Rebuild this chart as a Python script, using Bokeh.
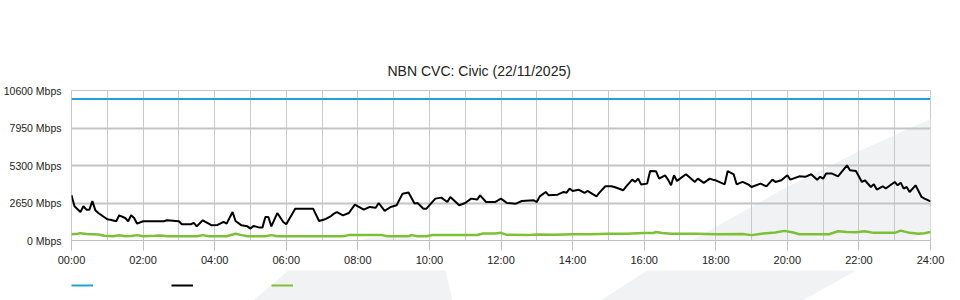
from bokeh.plotting import figure
from bokeh.layouts import column
from bokeh.models import (FixedTicker, Range1d, Legend, LegendItem, PolyAnnotation,
                          ColumnDataSource)
from bokeh.embed import file_html
from bokeh.resources import INLINE

title_text = "NBN CVC: Civic (22/11/2025)"
y_ticks = [0, 2650, 5300, 7950, 10600]
y_tick_labels = ["0 Mbps", "2650 Mbps", "5300 Mbps", "7950 Mbps", "10600 Mbps"]
x_ticks = list(range(0, 25, 2))
x_tick_labels = ["%02d:00" % h for h in x_ticks]

capacity_times = ["00:00", "24:00"]
capacity_mbps = [10000, 10000]

down_times = [
    "00:00", "00:05", "00:15", "00:20", "00:25", "00:30", "00:35", "00:40", "00:45", "01:00",
    "01:05", "01:15", "01:20", "01:30", "01:35", "01:40", "01:45", "01:50", "02:00", "02:35",
    "02:40", "03:00", "03:05", "03:20", "03:25", "03:30", "03:40", "03:50", "03:55", "04:05",
    "04:15", "04:20", "04:30", "04:35", "04:45", "04:55", "05:00", "05:05", "05:15", "05:20",
    "05:25", "05:30", "05:35", "05:45", "05:55", "06:00", "06:15", "06:45", "06:55", "07:05",
    "07:15", "07:20", "07:25", "07:35", "07:45", "07:55", "08:10", "08:20", "08:30", "08:35",
    "08:45", "08:55", "09:05", "09:15", "09:25", "09:35", "09:40", "09:50", "09:55", "10:10",
    "10:20", "10:30", "10:35", "10:50", "11:00", "11:10", "11:20", "11:25", "11:35", "11:50",
    "12:00", "12:10", "12:25", "12:35", "12:55", "13:00", "13:05", "13:15", "13:20", "13:35",
    "13:45", "13:50", "13:55", "14:00", "14:10", "14:20", "14:25", "14:40", "14:45", "14:55",
    "15:05", "15:10", "15:25", "15:30", "15:40", "15:45", "15:50", "15:55", "16:05", "16:10",
    "16:20", "16:25", "16:35", "16:40", "16:45", "16:50", "16:55", "17:10", "17:15", "17:25",
    "17:30", "17:40", "17:50", "17:55", "18:00", "18:15", "18:20", "18:30", "18:35", "18:45",
    "18:55", "19:00", "19:15", "19:25", "19:35", "19:40", "19:50", "20:00", "20:05", "20:20",
    "20:30", "20:40", "20:50", "20:55", "21:00", "21:05", "21:15", "21:25", "21:40", "21:45",
    "21:55", "22:05", "22:10", "22:20", "22:25", "22:30", "22:40", "22:45", "23:00", "23:05",
    "23:10", "23:15", "23:20", "23:25", "23:35", "23:45", "23:50", "24:00",
]
down_mbps = [
    3200, 2420, 2010, 2420, 2180, 2180, 2790, 2130, 1940, 1500,
    1470, 1360, 1780, 1590, 1360, 1780, 1590, 1190, 1360, 1360,
    1430, 1360, 1150, 1150, 1240, 1000, 1430, 1190, 1070, 1100,
    1310, 1190, 2010, 1380, 1070, 1000, 840, 1030, 910, 910,
    1660, 1660, 1000, 1940, 1310, 1145, 2250, 2250, 1380, 1500,
    1730, 1900, 2010, 1780, 1940, 2540, 2180, 2370, 2320, 2650,
    2090, 2370, 2490, 3310, 3390, 2610, 2650, 2250, 2250, 2960,
    3030, 2720, 3080, 2490, 2650, 2960, 2890, 3190, 2720, 2720,
    2960, 2650, 2600, 2790, 2840, 2720, 3120, 3430, 3190, 3240,
    3430, 3380, 3670, 3500, 3590, 3360, 3500, 3120, 3380, 3830,
    3830, 3780, 3550, 3830, 4300, 4140, 4370, 3950, 4020, 4910,
    4890, 4370, 4610, 4300, 3900, 4610, 4210, 4680, 4500, 4140,
    4370, 4070, 4370, 4300, 4255, 3970, 4910, 4680, 3970, 4140,
    3950, 3780, 4020, 3830, 4300, 4140, 4255, 4610, 4300, 4535,
    4500, 4680, 4300, 4500, 4370, 4730, 4730, 4535, 5310, 4960,
    4910, 4135, 4255, 3780, 3970, 3600, 3830, 3670, 4135, 3900,
    4090, 3670, 3780, 3430, 3900, 3075, 2960, 2770,
]

up_times = [
    "00:00", "00:10", "00:15", "00:25", "00:35", "00:45", "00:55", "01:10", "01:20", "01:30",
    "01:40", "01:50", "02:00", "02:20", "02:30", "02:40", "03:05", "03:30", "03:40", "03:50",
    "04:20", "04:35", "04:45", "04:55", "05:25", "05:35", "05:45", "07:35", "07:45", "08:40",
    "08:50", "09:25", "09:30", "09:40", "09:55", "10:05", "11:20", "11:30", "11:50", "12:00",
    "12:10", "12:45", "13:00", "13:30", "14:00", "14:30", "15:00", "15:30", "16:00", "16:15",
    "16:20", "16:30", "16:45", "17:30", "18:00", "18:45", "19:00", "19:20", "19:40", "19:55",
    "20:10", "20:20", "21:10", "21:25", "21:40", "21:55", "22:10", "22:25", "23:00", "23:10",
    "23:25", "23:40", "23:50", "24:00",
]
up_mbps = [
    450, 480, 520, 460, 450, 420, 330, 300, 370, 300,
    320, 380, 300, 330, 360, 300, 300, 300, 380, 300,
    300, 480, 380, 300, 300, 380, 300, 300, 380, 380,
    300, 300, 380, 300, 300, 390, 390, 490, 490, 540,
    400, 380, 420, 400, 440, 440, 480, 480, 530, 530,
    600, 530, 480, 480, 440, 460, 380, 500, 560, 680,
    560, 440, 440, 650, 600, 580, 660, 540, 540, 700,
    540, 480, 520, 600,
]

series_colors = {"capacity": "#1ea3dd", "download": "#000000", "upload": "#7dc034"}
series_widths = {"capacity": 2, "download": 2, "upload": 2.5}


def to_hours(ts):
    return [int(t[:2]) + int(t[3:]) / 60.0 for t in ts]


sources = {
    "capacity": ColumnDataSource(dict(x=to_hours(capacity_times), y=capacity_mbps)),
    "upload": ColumnDataSource(dict(x=to_hours(up_times), y=up_mbps)),
    "download": ColumnDataSource(dict(x=to_hours(down_times), y=down_mbps)),
}

FONT = "Liberation Sans"
WM = "#f1f2f4"
BAND_X = [600, 650, 700, 780, 860, 960, 960, 802]
BAND_Y = [300, 268, 235, 190, 150, 105, 212, 300]
BLOB_X = [253, 290, 330, 370, 410, 430, 445, 452]
BLOB_Y = [300, 268, 247, 237, 237, 244, 270, 300]


def watermark(fig, dy):
    for xs, ys in ((BAND_X, BAND_Y), (BLOB_X, BLOB_Y)):
        fig.add_layout(PolyAnnotation(
            xs=xs, ys=[y - dy for y in ys],
            xs_units="canvas", ys_units="canvas",
            fill_color=WM, fill_alpha=1, line_alpha=0, level="image",
        ))


p = figure(
    width=960, height=270,
    x_range=Range1d(0, 24), y_range=Range1d(0, 10600),
    output_backend="svg", toolbar_location=None,
    min_border_left=70, min_border_right=30, min_border_top=90, min_border_bottom=30,
    background_fill_alpha=0, border_fill_color="white",
)
watermark(p, 0)

p.title.text = title_text
p.title.align = "left"
p.title.offset = 316
p.title.text_font = FONT
p.title.text_font_size = "14px"
p.title.text_font_style = "normal"
p.title.text_color = "#222222"
p.title.standoff = 23

p.outline_line_color = "#c8c8c8"
p.outline_line_width = 1

xa = p.xaxis[0]
xa.ticker = FixedTicker(ticks=x_ticks)
xa.major_label_overrides = {t: l for t, l in zip(x_ticks, x_tick_labels)}
xa.major_tick_out = 10
xa.major_tick_in = 0
xa.minor_tick_out = 0
xa.minor_tick_in = 0
xa.major_tick_line_color = "#c0c0c0"
xa.axis_line_color = "#c0c0c0"
xa.major_label_text_font = FONT
xa.major_label_text_font_size = "11px"
xa.major_label_text_color = "#222222"
xa.major_label_standoff = 3

ya = p.yaxis[0]
ya.ticker = FixedTicker(ticks=y_ticks)
ya.major_label_overrides = {t: l for t, l in zip(y_ticks, y_tick_labels)}
ya.major_tick_out = 0
ya.major_tick_in = 0
ya.minor_tick_out = 0
ya.minor_tick_in = 0
ya.axis_line_color = None
ya.major_label_text_font = FONT
ya.major_label_text_font_size = "10.5px"
ya.major_label_text_color = "#222222"
ya.major_label_standoff = 10

p.xgrid.ticker = FixedTicker(ticks=list(range(0, 25)))
p.xgrid.grid_line_color = "#c8c8c8"
p.xgrid.grid_line_width = 1
p.ygrid.ticker = FixedTicker(ticks=y_ticks[1:-1])
p.ygrid.grid_line_color = "#c4c4c4"
p.ygrid.grid_line_width = 2

for name in ("capacity", "upload", "download"):
    p.line("x", "y", source=sources[name], line_color=series_colors[name],
           line_width=series_widths[name])

# legend strip below the chart: keys only (the original shows no labels)
q = figure(
    width=960, height=30, x_range=p.x_range, y_range=Range1d(-2, -1),
    output_backend="svg", toolbar_location=None,
    x_axis_type=None, y_axis_type=None,
    min_border_left=70, min_border_right=30, min_border_top=0, min_border_bottom=0,
    background_fill_alpha=0, border_fill_color="white", outline_line_color=None,
)
q.xgrid.visible = False
q.ygrid.visible = False
watermark(q, 270)
keys = []
for name in ("capacity", "download", "upload"):
    r = q.line("x", "y", source=sources[name], line_color=series_colors[name], line_width=2)
    keys.append(LegendItem(label=" ", renderers=[r]))

legend = Legend(
    items=keys, orientation="horizontal", location="left",
    glyph_width=22, glyph_height=10, label_width=78, label_height=10,
    label_standoff=0, spacing=0, padding=0, margin=0,
    border_line_alpha=0, background_fill_alpha=0,
    label_text_font_size="8px",
)
q.add_layout(legend, "center")

layout = column(p, q, spacing=0)
open("out.html", "w").write(file_html(layout, INLINE))
